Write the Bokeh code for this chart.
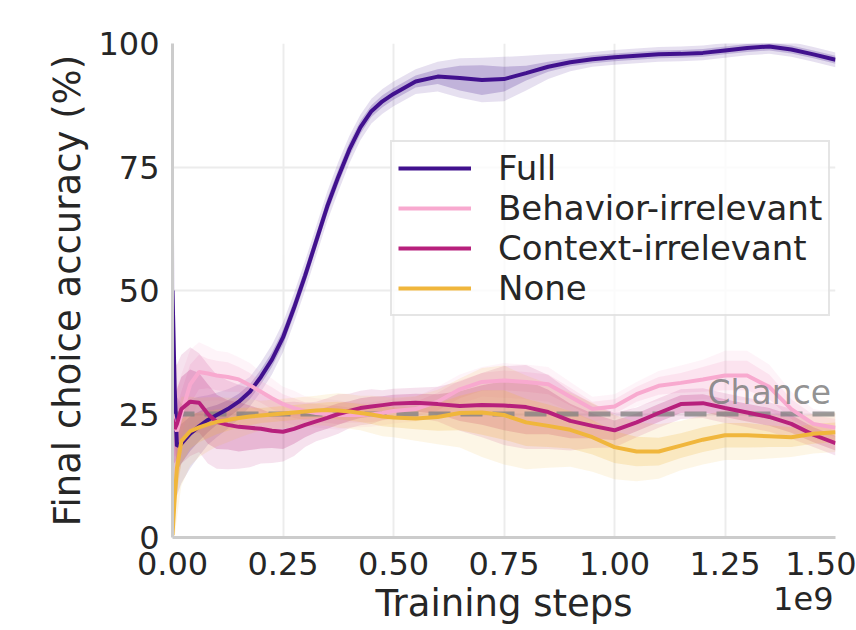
import numpy as np
from bokeh.plotting import figure
from bokeh.models import (Range1d, FixedTicker, PrintfTickFormatter, Legend,
                          LegendItem, Label, Title)
from bokeh.embed import file_html
from bokeh.resources import INLINE

# ---------------- data ----------------
steps = [0, 0.005, 0.01, 0.02, 0.04, 0.06, 0.08, 0.1, 0.125, 0.15, 0.175, 0.2,
         0.225, 0.25, 0.275, 0.3, 0.325, 0.35, 0.375, 0.4, 0.425, 0.45, 0.475,
         0.5, 0.55, 0.6, 0.65, 0.7, 0.75, 0.8, 0.85, 0.9, 0.95, 1.0, 1.05, 1.1,
         1.15, 1.2, 1.25, 1.3, 1.35, 1.4, 1.45, 1.5]  # x 1e9 training steps

full_mean = [50, 30, 18.5, 19, 21, 22.5, 23.8, 24.8, 26, 27.5, 29.5, 32.5,
             36, 40.5, 46.5, 53, 60, 67, 73, 78.5, 83, 86.3, 88.3,
             89.8, 92.3, 93.3, 93.0, 92.6, 92.8, 94.0, 95.3, 96.2, 96.8, 97.2, 97.5, 97.8,
             97.9, 98.1, 98.6, 99.1, 99.4, 98.8, 97.8, 96.7]
full_err_out = [36, 20, 10, 8, 7, 6, 5, 4.5, 4, 3.5, 3, 3,
                3, 3, 3, 3, 3, 3, 3, 2.8, 2.6, 2.5, 2.5,
                2.5, 2.5, 3, 4, 4.5, 4.5, 3.5, 2.5, 1.8, 1.5, 1.5, 1.5, 1.5,
                1.5, 1.5, 1.5, 1.5, 1.5, 1.5, 1.5, 1.5]
full_err_in = [20, 10, 5, 4, 3.5, 3, 2.5, 2, 1.8, 1.6, 1.5, 1.5,
               1.5, 1.5, 1.5, 1.5, 1.5, 1.5, 1.5, 1.4, 1.3, 1.2, 1.2,
               1.2, 1.2, 1.5, 2.5, 3, 2.5, 1.5, 1.0, 0.8, 0.8, 0.8, 0.8, 0.8,
               0.8, 0.8, 0.8, 0.8, 0.8, 0.8, 0.8, 0.8]

behav_mean = [25, 22.5, 21.5, 25, 31, 33.5, 33.2, 32.8, 32.5, 32, 30.8, 29.5,
              28.2, 27, 26.2, 25.6, 25.2, 25, 24.8, 24.8, 24.8, 24.9, 25.2,
              25.6, 26, 27.5, 30, 31.5, 31.8, 31.5, 31, 28.5, 26, 26.5, 29, 30.7,
              31.3, 32, 32.8, 32.8, 30.5, 26, 23, 22.2]
behav_err_out = [12, 10, 9, 8, 7, 6, 5.5, 5, 5, 4.5, 4.5, 4,
                 4, 3.5, 3.5, 3, 3, 3, 3, 2.5, 2.5, 2.5, 2.5,
                 2.5, 2.5, 3, 3, 3, 3.5, 3.5, 3.5, 3, 2.5, 2.5, 2.5, 3,
                 3.5, 4, 5, 5, 4.5, 3.5, 3, 3]
behav_err_in = [7, 6, 5, 4.5, 4, 3.5, 3, 3, 3, 2.5, 2.5, 2.2,
                2.2, 2, 2, 1.8, 1.8, 1.8, 1.8, 1.5, 1.5, 1.5, 1.5,
                1.5, 1.5, 1.8, 1.8, 1.8, 2, 2, 2, 1.8, 1.5, 1.5, 1.5, 1.8,
                2, 2.5, 3, 3, 2.5, 2, 1.8, 1.8]

context_mean = [24, 22, 23, 26, 27.5, 27.3, 25, 23.4, 22.8, 22.4, 22.2, 22,
                21.6, 21.4, 22, 22.8, 23.5, 24.2, 25, 25.6, 26.2, 26.5, 26.8,
                27.1, 27.3, 27, 26.6, 26.8, 26.7, 26.4, 25.4, 23.6, 22.6, 21.7, 23.3, 25.2,
                27, 27.2, 26.2, 25.3, 24.4, 23, 20.8, 19.1]
context_err_out = [14, 13, 12, 11, 11, 10, 10, 9.5, 9, 8.5, 8, 7,
                   6.5, 6, 5.5, 4.5, 4, 4, 4, 3.5, 3.5, 3.5, 3,
                   3, 3, 3.5, 5, 6.5, 8, 8.5, 7.5, 6, 4.5, 3.5, 3, 3,
                   3, 3, 3, 3, 3, 3, 2.5, 2.5]
context_err_in = [8, 7, 7, 6.5, 6.5, 6, 6, 5.5, 5, 5, 4.5, 4,
                  3.5, 3.5, 3, 2.5, 2.2, 2.2, 2.2, 2, 2, 2, 1.8,
                  1.8, 1.8, 2, 3, 4, 5, 5.5, 4.5, 3.5, 2.5, 2, 1.8, 1.8,
                  1.8, 1.8, 1.8, 1.8, 1.8, 1.8, 1.5, 1.5]

none_mean = [0.5, 8, 14, 19.5, 21.5, 22.3, 22.9, 23.4, 23.8, 24.2, 24.5, 24.7,
             24.9, 25.1, 25.3, 25.5, 25.7, 25.8, 25.7, 25.5, 25.2, 24.9, 24.5,
             24.3, 24.1, 24.4, 25.2, 25.3, 24.8, 23.3, 22.6, 21.8, 20.3, 18.3, 17.4, 17.4,
             18.6, 19.8, 20.7, 20.7, 20.5, 20.3, 21.0, 21.3]
none_err_out = [1, 8, 10, 9, 7, 6, 5.5, 5, 4.5, 4, 3.5, 3,
                3, 3, 3, 3, 3, 3.2, 3.5, 3.5, 3.5, 3.8, 4,
                4, 4.5, 5.5, 7, 9, 10, 9.5, 8.5, 7.5, 7, 6.5, 6, 5.5,
                5, 5, 5, 5, 4.5, 4, 4, 4]
none_err_in = [0.5, 4, 5, 4.5, 3.5, 3, 2.8, 2.5, 2.2, 2, 1.8, 1.5,
               1.5, 1.5, 1.5, 1.5, 1.5, 1.6, 1.8, 1.8, 1.8, 1.9, 2,
               2, 2.2, 2.8, 3.5, 4.5, 5, 4.8, 4.3, 3.8, 3.5, 3.2, 3, 2.8,
               2.5, 2.5, 2.5, 2.5, 2.2, 2, 2, 2]

series_names = ["Full", "Behavior-irrelevant", "Context-irrelevant", "None"]
chance_level = 25
x_ticks = [0, 0.25, 0.5, 0.75, 1.0, 1.25, 1.5]
y_ticks = [0, 25, 50, 75, 100]

# ---------------- styling ----------------
colors = ["#41118e", "#f8a9cf", "#b7207c", "#f0b63c"]
FONT = "DejaVu Sans"
TXT = "#262626"

p = figure(width=856, height=630, output_backend="svg", toolbar_location=None,
           x_range=Range1d(0, 1.5), y_range=Range1d(0, 100),
           min_border_left=172, min_border_right=21, min_border_top=43,
           min_border_bottom=93)
p.outline_line_color = None
p.background_fill_color = "white"
p.border_fill_color = "white"

data = [(full_mean, full_err_in, full_err_out),
        (behav_mean, behav_err_in, behav_err_out),
        (context_mean, context_err_in, context_err_out),
        (none_mean, none_err_in, none_err_out)]

x = np.array(steps)
for (m, ei, eo), c in zip(data, colors):
    m = np.array(m); ei = np.array(ei); eo = np.array(eo)
    p.varea(x=x, y1=m - eo, y2=m + eo, fill_color=c, fill_alpha=0.13)
    p.varea(x=x, y1=m - ei, y2=m + ei, fill_color=c, fill_alpha=0.22)

p.line(x=[steps[0], steps[-1]], y=[chance_level, chance_level],
       line_color="#7f7f7f", line_alpha=0.75, line_width=5, line_dash="22 10")

renderers = []
for (m, ei, eo), c in zip(data, colors):
    r = p.line(x=x, y=m, line_color=c, line_width=4)
    renderers.append(r)

legend = Legend(items=[LegendItem(label=n, renderers=[r]) for n, r in zip(series_names, renderers)],
                location=(218, 221), glyph_width=73, glyph_height=40,
                label_height=40, label_standoff=27, padding=6, spacing=0, margin=0,
                label_text_font=FONT, label_text_font_size="34px", label_text_color=TXT,
                border_line_color="#cccccc", border_line_width=2,
                background_fill_color="white", background_fill_alpha=0.8)
p.add_layout(legend)

p.add_layout(Label(x=1.49, y=29.3, text="Chance", text_align="right",
                   text_baseline="alphabetic", text_font=FONT, text_font_size="33px",
                   text_color="#7f7f7f", text_alpha=0.85))

# offset-exponent text of the x axis, drawn in the panel below the axis
p.add_layout(Title(text="1e9", align="right", vertical_align="top", offset=2,
                   standoff=-82, text_font=FONT, text_font_size="32px",
                   text_font_style="normal", text_color=TXT), "below")

# axes
p.xaxis.ticker = FixedTicker(ticks=x_ticks)
p.yaxis.ticker = FixedTicker(ticks=y_ticks)
p.xaxis.formatter = PrintfTickFormatter(format="%.2f")
p.yaxis.formatter = PrintfTickFormatter(format="%d")
p.xaxis.axis_label = "Training steps"
p.yaxis.axis_label = "Final choice accuracy (%)"
for ax in (p.xaxis, p.yaxis):
    ax.major_tick_line_color = None
    ax.minor_tick_line_color = None
    ax.axis_line_color = "#cccccc"
    ax.axis_line_width = 3
    ax.major_label_text_font = FONT
    ax.major_label_text_font_size = "32px"
    ax.major_label_text_color = TXT
    ax.axis_label_text_font = FONT
    ax.axis_label_text_font_size = "37px"
    ax.axis_label_text_font_style = "normal"
    ax.axis_label_text_color = TXT
p.xaxis.major_label_standoff = 8
p.yaxis.major_label_standoff = 7
p.xaxis.axis_label_standoff = 4
p.yaxis.axis_label_standoff = 6

p.xgrid.grid_line_color = "#ececec"
p.ygrid.grid_line_color = "#ececec"
p.xgrid.grid_line_width = 2
p.ygrid.grid_line_width = 2

open("out.html", "w").write(file_html(p, INLINE))
